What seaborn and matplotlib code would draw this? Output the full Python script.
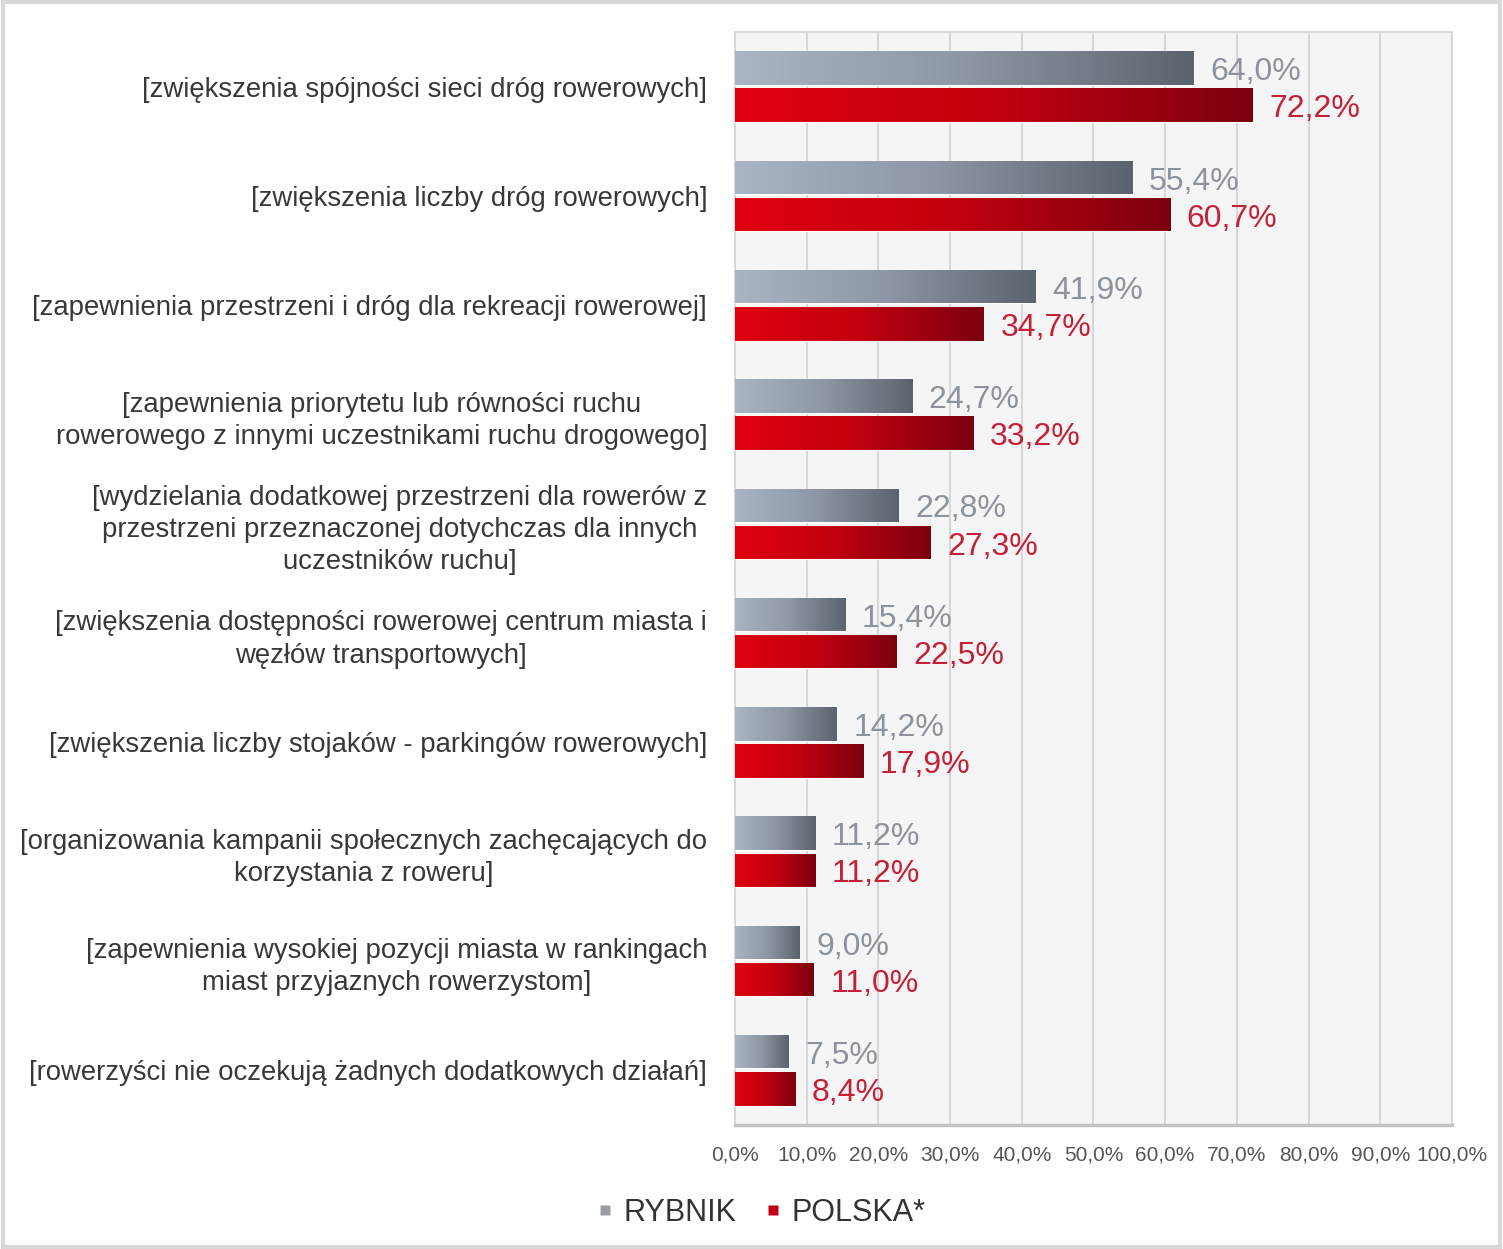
import numpy as np
import pandas as pd
import matplotlib
matplotlib.use("Agg")
import matplotlib.pyplot as plt
from matplotlib.colors import LinearSegmentedColormap
from matplotlib.lines import Line2D
from matplotlib.patches import Rectangle
import seaborn as sns

categories = [
    "[zwiększenia spójności sieci dróg rowerowych]",
    "[zwiększenia liczby dróg rowerowych]",
    "[zapewnienia przestrzeni i dróg dla rekreacji rowerowej]",
    "[zapewnienia priorytetu lub równości ruchu\nrowerowego z innymi uczestnikami ruchu drogowego]",
    "[wydzielania dodatkowej przestrzeni dla rowerów z\nprzestrzeni przeznaczonej dotychczas dla innych\nuczestników ruchu]",
    "[zwiększenia dostępności rowerowej centrum miasta i\nwęzłów transportowych]",
    "[zwiększenia liczby stojaków - parkingów rowerowych]",
    "[organizowania kampanii społecznych zachęcających do\nkorzystania z roweru]",
    "[zapewnienia wysokiej pozycji miasta w rankingach\nmiast przyjaznych rowerzystom]",
    "[rowerzyści nie oczekują żadnych dodatkowych działań]",
]
rybnik = [64.0, 55.4, 41.9, 24.7, 22.8, 15.4, 14.2, 11.2, 9.0, 7.5]
polska = [72.2, 60.7, 34.7, 33.2, 27.3, 22.5, 17.9, 11.2, 11.0, 8.4]
series_names = ["RYBNIK", "POLSKA*"]
xticks = list(range(0, 101, 10))

df = pd.DataFrame({
    "cat": categories * 2,
    "val": rybnik + polska,
    "series": [series_names[0]] * len(categories) + [series_names[1]] * len(categories),
})

sns.set_style("white")
plt.rcParams["font.family"] = ["Liberation Sans", "DejaVu Sans"]

fig = plt.figure(figsize=(15.03, 12.49), dpi=100)
ax = fig.add_axes([0.489, 0.0993, 0.477, 0.8751])
ax.set_facecolor("#f5f5f5")

base_cols = {"RYBNIK": "#8a939e", "POLSKA*": "#c00018"}
sns.barplot(data=df, y="cat", x="val", hue="series", orient="h",
            order=categories, hue_order=series_names, palette=base_cols,
            width=0.68, gap=0.1, legend=False, ax=ax, zorder=3)

ax.set_xlim(0, 100)
ax.set_ylim(len(categories) - 0.5, -0.5)

cmaps = [
    LinearSegmentedColormap.from_list("g", ["#a9b4c4", "#8d97a5", "#5b636d"]),
    LinearSegmentedColormap.from_list("r", ["#e00010", "#c2000f", "#7c0010"]),
]
grad = np.linspace(0, 1, 256).reshape(1, -1)
for ci, cont in enumerate(ax.containers):
    for patch in cont.patches:
        bb = patch.get_bbox()
        im = ax.imshow(grad, cmap=cmaps[ci], aspect="auto",
                       extent=(bb.x0, bb.x1, bb.y0, bb.y1), zorder=4,
                       interpolation="bilinear")
        im.set_clip_path(patch)
ax.set_xlim(0, 100)
ax.set_ylim(len(categories) - 0.5, -0.5)

label_cols = ["#8c939c", "#c42038"]
for ci, cont in enumerate(ax.containers):
    vals = rybnik if ci == 0 else polska
    anns = ax.bar_label(cont, labels=[f"{v:.1f}%".replace(".", ",") for v in vals],
                        padding=12, color=label_cols[ci], fontsize=23, zorder=5)
    for a in anns:
        a.xyann = (12, -3)

ax.set_xticks(xticks)
ax.set_xticklabels([f"{t:.1f}%".replace(".", ",") for t in xticks],
                   fontsize=15, color="#555555")
ax.tick_params(axis="x", length=0, pad=15)
ax.tick_params(axis="y", length=0, pad=20, labelsize=19.8, labelcolor="#383838")
for lbl in ax.get_yticklabels():
    lbl.set_multialignment("center")
    lbl.set_linespacing(1.32)
ax.set_xlabel("")
ax.set_ylabel("")
ax.grid(axis="x", color="#d0d0d0", linewidth=1.2, zorder=0)
ax.grid(axis="y", visible=False)
ax.set_axisbelow(True)
for s in ["top", "right", "left"]:
    ax.spines[s].set_color("#d4d4d4")
    ax.spines[s].set_linewidth(1.2)
ax.spines["bottom"].set_color("#c4c4c4")
ax.spines["bottom"].set_linewidth(2.5)

handles = [
    Line2D([0], [0], marker="s", color="none", markerfacecolor="#9a9ea4",
           markeredgecolor="none", markersize=7),
    Line2D([0], [0], marker="s", color="none", markerfacecolor="#c00018",
           markeredgecolor="none", markersize=7),
]
fig.legend(handles, series_names, loc="center", bbox_to_anchor=(0.507, 0.029),
           ncol=2, frameon=False, fontsize=22, handlelength=0.4,
           handletextpad=0.4, columnspacing=1.0, labelcolor="#333333")

fig.patches.append(Rectangle((0.002, 0.002), 0.996, 0.996, transform=fig.transFigure,
                             fill=False, edgecolor="#d8d8d8", linewidth=3))

fig.savefig("out.png", dpi=100, facecolor="white")
